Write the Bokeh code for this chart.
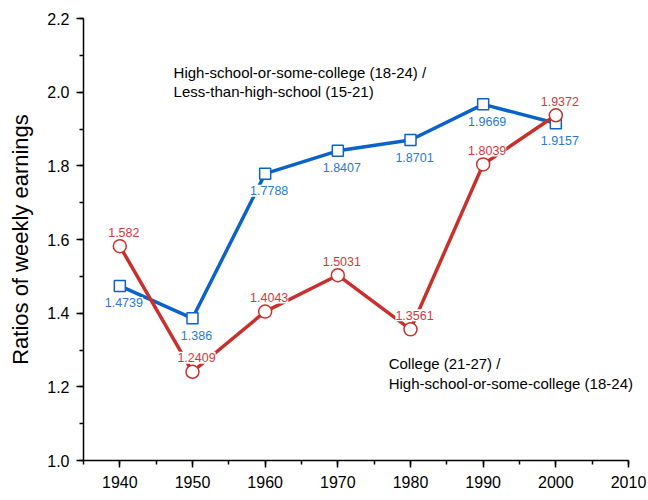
from bokeh.plotting import figure
from bokeh.models import ColumnDataSource, FixedTicker, Label, CustomJSTickFormatter
from bokeh.core.properties import value
from bokeh.embed import file_html
from bokeh.resources import INLINE

years = [1940, 1950, 1960, 1970, 1980, 1990, 2000]
hs_vs_lths = [1.4739, 1.386, 1.7788, 1.8407, 1.8701, 1.9669, 1.9157]
col_vs_hs = [1.582, 1.2409, 1.4043, 1.5031, 1.3561, 1.8039, 1.9372]
x_ticks = [1940, 1950, 1960, 1970, 1980, 1990, 2000, 2010]
y_ticks = [1.0, 1.2, 1.4, 1.6, 1.8, 2.0, 2.2]

BLUE = "#0b62c8"
RED = "#c9302c"
BLUE_T = "#2a78d0"
RED_T = "#d03a3a"
FONT = "Liberation Sans"

W, H = 648, 500
LEFT, RIGHT, TOP, BOTTOM = 83, 0, 18, 40
X0, X1 = 1935, 2010
Y0, Y1 = 1.0, 2.2
frame_w_axis = 628 - LEFT               # pixels from 1935 to 2010
px_per_year = frame_w_axis / (X1 - X0)
x_end = X0 + (W - RIGHT - LEFT) / px_per_year
px_per_unit = (H - TOP - BOTTOM) / (Y1 - Y0)

p = figure(width=W, height=H, x_range=(X0, x_end), y_range=(Y0, Y1),
           output_backend="svg", toolbar_location=None,
           min_border_left=LEFT, min_border_right=RIGHT, min_border_top=TOP, min_border_bottom=BOTTOM)
p.xgrid.visible = False
p.ygrid.visible = False
p.outline_line_color = None
p.xaxis.bounds = (X0, X1)

p.xaxis.ticker = FixedTicker(ticks=x_ticks, minor_ticks=[1935 + 5 * i for i in range(16)])
p.yaxis.ticker = FixedTicker(ticks=y_ticks, minor_ticks=[round(1.0 + 0.1 * i, 2) for i in range(13)])
for ax in (p.xaxis, p.yaxis):
    ax.axis_line_width = 1.5
    ax.axis_line_color = "black"
    ax.major_tick_line_color = "black"
    ax.minor_tick_line_color = "black"
    ax.major_tick_line_width = 1.5
    ax.minor_tick_line_width = 1.5
    ax.major_tick_in = 0
    ax.major_tick_out = 7
    ax.minor_tick_in = 0
    ax.minor_tick_out = 4
    ax.major_label_text_font = FONT
    ax.major_label_text_font_size = "16px"
    ax.major_label_text_color = "black"
p.xaxis.major_label_standoff = 8
p.yaxis.major_label_standoff = 7
p.yaxis.formatter = CustomJSTickFormatter(code="return tick.toFixed(1);")
p.yaxis.axis_label = "Ratios of weekly earnings"
p.yaxis.axis_label_text_font = FONT
p.yaxis.axis_label_text_font_size = "22px"
p.yaxis.axis_label_text_font_style = "normal"
p.yaxis.axis_label_text_color = "black"
p.yaxis.axis_label_standoff = 11

B_OFF, R_OFF = 17, 14   # label offsets in pixels (below blue, above red)
XOFF = 4

def src(vals, off):
    t = [str(v) for v in vals]
    return ColumnDataSource(dict(
        x=years, y=vals, t=t,
        xb=[yr + XOFF / px_per_year for yr in years],
        yb=[v + off / px_per_unit for v in vals],
        wb=[len(s) * 6.2 + 1 for s in t],
    ))

src_b = src(hs_vs_lths, -B_OFF)
src_r = src(col_vs_hs, R_OFF)

p.line("x", "y", source=src_b, line_color=BLUE, line_width=3.5)
p.line("x", "y", source=src_r, line_color=RED, line_width=3.5)

for s in (src_b, src_r):
    p.rect("xb", "yb", width="wb", height=12, width_units="screen", height_units="screen",
           source=s, fill_color="white", line_color=None)

p.text("x", "y", text="t", source=src_b, y_offset=B_OFF, x_offset=XOFF, text_align="center",
       text_baseline="middle", text_color=BLUE_T, text_font=value(FONT), text_font_size="12.5px")
p.text("x", "y", text="t", source=src_r, y_offset=-R_OFF, x_offset=XOFF, text_align="center",
       text_baseline="middle", text_color=RED_T, text_font=value(FONT), text_font_size="12.5px")

p.scatter("x", "y", source=src_b, marker="square", size=11, fill_color="white",
          line_color=BLUE, line_width=1.5)
p.scatter("x", "y", source=src_r, marker="circle", size=13, fill_color="white",
          line_color=RED, line_width=1.5)

for txt, xx, yy in [("High-school-or-some-college (18-24) /", 1947.4, 2.053),
                    ("Less-than-high-school (15-21)", 1947.4, 2.001),
                    ("College (21-27) /", 1977.0, 1.264),
                    ("High-school-or-some-college (18-24)", 1977.0, 1.210)]:
    p.add_layout(Label(x=xx, y=yy, text=txt, text_font=FONT, text_font_size="15px",
                       text_color="black", text_baseline="middle", text_align="left"))

open("out.html", "w").write(file_html(p, INLINE))
